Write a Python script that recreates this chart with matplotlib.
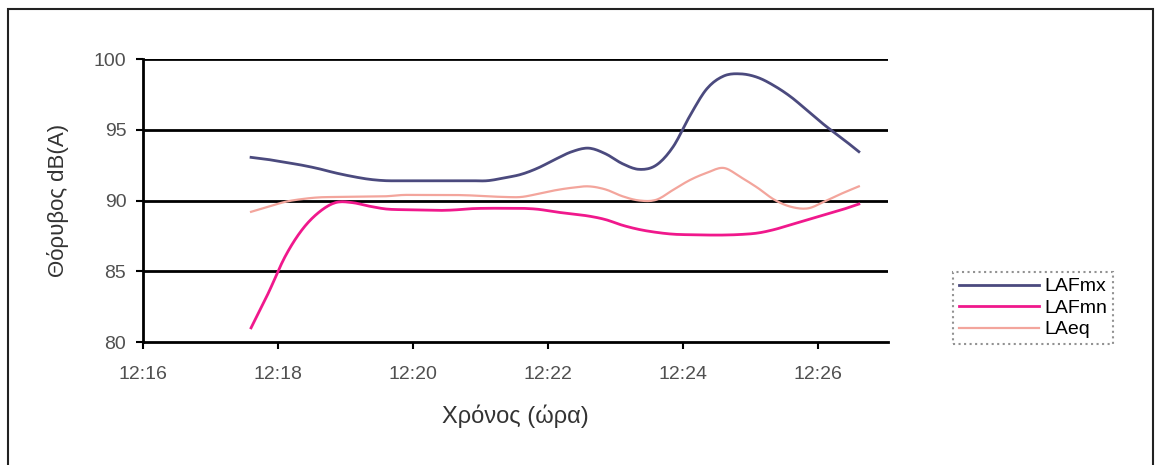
import numpy as np
import pandas as pd
import matplotlib
matplotlib.use("Agg")
import matplotlib.pyplot as plt
import matplotlib.dates as mdates
from matplotlib.patches import Rectangle

plt.rcParams['font.family'] = ['Liberation Sans', 'DejaVu Sans']

# sound level readings, one every 15 s from 12:17:36 to 12:26:36
times = pd.date_range("2000-01-01 12:17:36", periods=37, freq="15s")

laf_max = [93.05, 92.9, 92.7, 92.5, 92.25, 91.95, 91.7, 91.5, 91.4, 91.4,
           91.4, 91.4, 91.4, 91.4, 91.4, 91.6, 91.85, 92.3, 92.9, 93.45,
           93.7, 93.3, 92.6, 92.2, 92.5, 93.8, 96.0, 97.9, 98.8, 98.95,
           98.7, 98.1, 97.3, 96.3, 95.3, 94.4, 93.45]
laf_min = [81.0, 83.4, 86.0, 87.9, 89.15, 89.85, 89.85, 89.6, 89.4, 89.35,
           89.33, 89.3, 89.33, 89.42, 89.45, 89.45, 89.45, 89.38, 89.2, 89.05,
           88.9, 88.65, 88.25, 87.95, 87.75, 87.62, 87.58, 87.56, 87.56, 87.6,
           87.7, 87.95, 88.3, 88.65, 89.0, 89.35, 89.75]
la_eq = [89.2, 89.55, 89.9, 90.1, 90.22, 90.25, 90.27, 90.28, 90.3, 90.39,
         90.39, 90.39, 90.39, 90.36, 90.3, 90.25, 90.25, 90.47, 90.72, 90.9,
         91.0, 90.78, 90.3, 90.0, 90.05, 90.75, 91.45, 91.96, 92.3, 91.65,
         90.9, 90.05, 89.55, 89.45, 89.95, 90.5, 91.0]

series_names = ["LAFmx", "LAFmn", "LAeq"]
y_ticks = [80, 85, 90, 95, 100]


def smooth_line(x, y, steps=10):
    # Catmull-Rom curve through the readings (spreadsheet-style smoothed line)
    x = np.asarray(x, float)
    y = np.asarray(y, float)
    px = np.concatenate([[2 * x[0] - x[1]], x, [2 * x[-1] - x[-2]]])
    py = np.concatenate([[2 * y[0] - y[1]], y, [2 * y[-1] - y[-2]]])
    t = np.linspace(0, 1, steps, endpoint=False)[:, None]
    out_x, out_y = [], []
    for p in (px, py):
        p0, p1, p2, p3 = p[:-3], p[1:-2], p[2:-1], p[3:]
        seg = 0.5 * (2 * p1 + (-p0 + p2) * t + (2 * p0 - 5 * p1 + 4 * p2 - p3) * t ** 2
                     + (-p0 + 3 * p1 - 3 * p2 + p3) * t ** 3)
        (out_x if p is px else out_y).append(np.append(seg.T.ravel(), p[-2]))
    return out_x[0], out_y[0]


fig = plt.figure(figsize=(11.57, 4.65), dpi=100)
ax = fig.add_axes([0.1236, 0.2645, 0.644, 0.6086])

tx = mdates.date2num(times)
ax.plot(*smooth_line(tx, laf_max), color="#4b4a7e", lw=2.0, label=series_names[0])
ax.plot(*smooth_line(tx, laf_min), color="#f0188c", lw=2.0, label=series_names[1])
ax.plot(*smooth_line(tx, la_eq), color="#f3a59c", lw=1.6, label=series_names[2])

ax.set_ylim(80, 100)
ax.set_yticks(y_ticks)
ax.set_xlim(pd.Timestamp("2000-01-01 12:16:00"), pd.Timestamp("2000-01-01 12:27:02"))
ax.xaxis.set_major_locator(mdates.MinuteLocator(byminute=range(16, 27, 2)))
ax.xaxis.set_major_formatter(mdates.DateFormatter("%H:%M"))

for v in y_ticks[1:]:
    ax.axhline(v, color="black", lw=2.0, zorder=0.5)

for side in ["top", "right"]:
    ax.spines[side].set_visible(False)
ax.spines["left"].set_linewidth(2.0)
ax.spines["bottom"].set_linewidth(2.0)
ax.tick_params(axis="both", direction="out", length=5, width=1.5,
               labelsize=14, labelcolor="#505050")
ax.tick_params(axis="y", pad=7)
ax.tick_params(axis="x", pad=12)

ax.set_ylabel("Θόρυβος dB(A)", fontsize=16, color="#333333", labelpad=18)
ax.set_xlabel("Χρόνος (ώρα)", fontsize=17, color="#333333", labelpad=16)

leg = ax.legend(loc="upper left", bbox_to_anchor=(0.8237, 0.415),
                bbox_transform=fig.transFigure, fontsize=14, frameon=True,
                fancybox=False, handlelength=4.1, handletextpad=0.3,
                labelspacing=0.2, borderpad=0.3, borderaxespad=0)
leg.get_frame().set_edgecolor("#777777")
leg.get_frame().set_linestyle(":")
leg.get_frame().set_linewidth(1.5)

# page frame around the figure
fig.add_artist(Rectangle((0.0069, -0.05), 0.9896, 1.0306, transform=fig.transFigure,
                         fill=False, edgecolor="#222222", lw=1.5))

fig.savefig("out.png", dpi=100)
